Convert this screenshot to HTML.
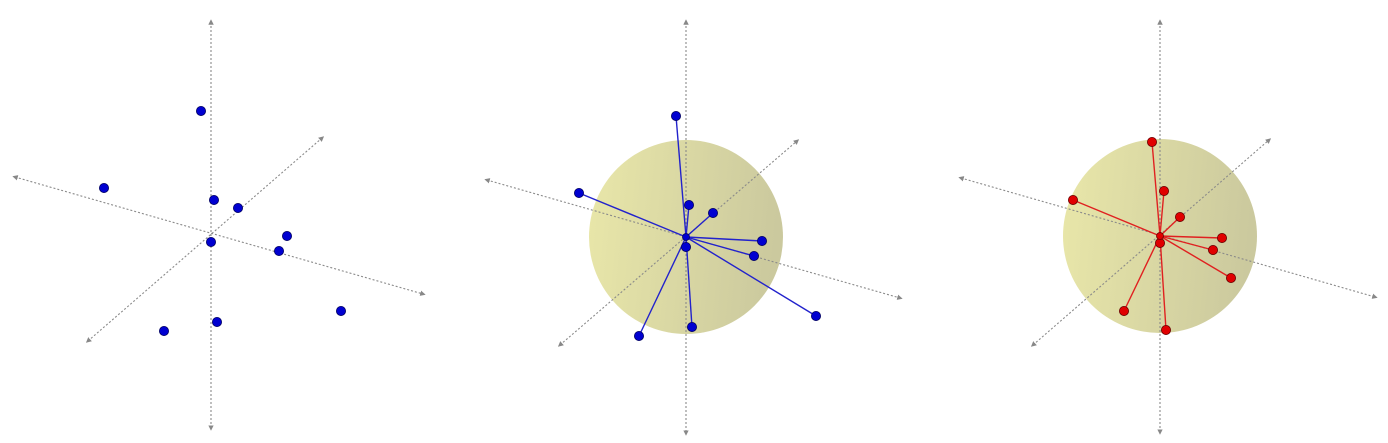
<!DOCTYPE html>
<html><head><meta charset="utf-8"><style>html,body{margin:0;padding:0;background:#fff}svg{display:block}</style></head>
<body>
<svg id="c" width="1388" height="443" xmlns="http://www.w3.org/2000/svg">
<defs>
<linearGradient id="sg" x1="0" y1="0" x2="1" y2="0.1">
<stop offset="0" stop-color="#e9e7a9"/><stop offset="1" stop-color="#cbc99e"/>
</linearGradient>
<marker id="ar" viewBox="0 0 6 6" refX="3" refY="3" markerWidth="5" markerHeight="5" orient="auto-start-reverse"><path d="M0,0L6,3L0,6z" fill="#888"/></marker>
</defs>
</svg>
<script>
// raw points (panel 1 & 2): horizontal / vertical offset from origin in data units
const rawX = [-1.0, -10.7, 0.3, 2.7, 7.6, 6.8, 0.0, 0.6, -4.7, 13.0];
const rawY = [12.1, 4.4, 3.2, 2.4, -0.4, -1.9, -1.0, -9.0, -9.9, -7.9];
// normalized points (panel 3)
const normX = [-0.8, -8.7, 0.4, 2.0, 6.2, 5.3, 0.0, 0.6, -3.6, 7.1];
const normY = [9.4, 3.6, 4.5, 1.9, -0.2, -1.4, -0.7, -9.4, -7.5, -4.2];
const sphereR = 9.7;

const NS = 'http://www.w3.org/2000/svg';
const svg = document.getElementById('c');
function mk(t, a) { const e = document.createElementNS(NS, t); for (const k in a) e.setAttribute(k, a[k]); return e; }
const U = 10;
const panels = [
  {cx: 211, cy: 232, vert: [22, 428], h: [[15,177],[423,294]], d: [[88,341],[322,138]], xs: rawX, ys: rawY, sphere: false, lines: false, col: '#0000d0', name: 'raw-points'},
  {cx: 686, cy: 237, vert: [22, 433], h: [[487,180],[900,298]], d: [[560,345],[797,141]], xs: rawX, ys: rawY, sphere: true, lines: true, col: '#0000d0', lc: '#2222cc', name: 'raw-vectors'},
  {cx: 1160, cy: 236, vert: [22, 432], h: [[961,178],[1375,297]], d: [[1033,345],[1269,140]], xs: normX, ys: normY, sphere: true, lines: true, col: '#e00000', lc: '#e02020', name: 'normalized-vectors'}
];
panels.forEach((p, pi) => {
  const g = mk('g', {});
  
  
  svg.appendChild(g);
  const sx = v => p.cx + v * U, sy = v => p.cy - v * U;
  if (p.sphere) {
    const s = mk('circle', {cx: p.cx, cy: p.cy, r: sphereR * U, fill: 'url(#sg)'});
    
    
    g.appendChild(s);
  }
  const axes = [[[p.cx, p.vert[0]], [p.cx, p.vert[1]]], p.h, p.d];
  const an = ['z-axis', 'x-axis', 'y-axis'];
  axes.forEach((a, i) => {
    const l = mk('line', {x1: a[0][0], y1: a[0][1], x2: a[1][0], y2: a[1][1], stroke: '#8a8a8a', 'stroke-width': 1.1, 'stroke-dasharray': '2,2', 'marker-start': 'url(#ar)', 'marker-end': 'url(#ar)'});
    
    
    g.appendChild(l);
  });
  if (p.lines) p.xs.forEach((v, i) => {
    const l = mk('line', {x1: p.cx, y1: p.cy, x2: sx(v), y2: sy(p.ys[i]), stroke: p.lc, 'stroke-width': 1.4});
    
    
    g.appendChild(l);
  });
  p.xs.forEach((v, i) => {
    const c = mk('circle', {cx: sx(v), cy: sy(p.ys[i]), r: 4.6, fill: p.col, stroke: pi === 2 ? '#600' : '#000060', 'stroke-width': 0.8});
    
    
    g.appendChild(c);
  });
  if (p.lines) {
    const h = mk('circle', {cx: p.cx, cy: p.cy, r: 3.5, fill: p.col, stroke: pi === 2 ? '#600' : '#000060', 'stroke-width': 0.8});
    
    
    g.appendChild(h);
  }
});
</script>
</body></html>
